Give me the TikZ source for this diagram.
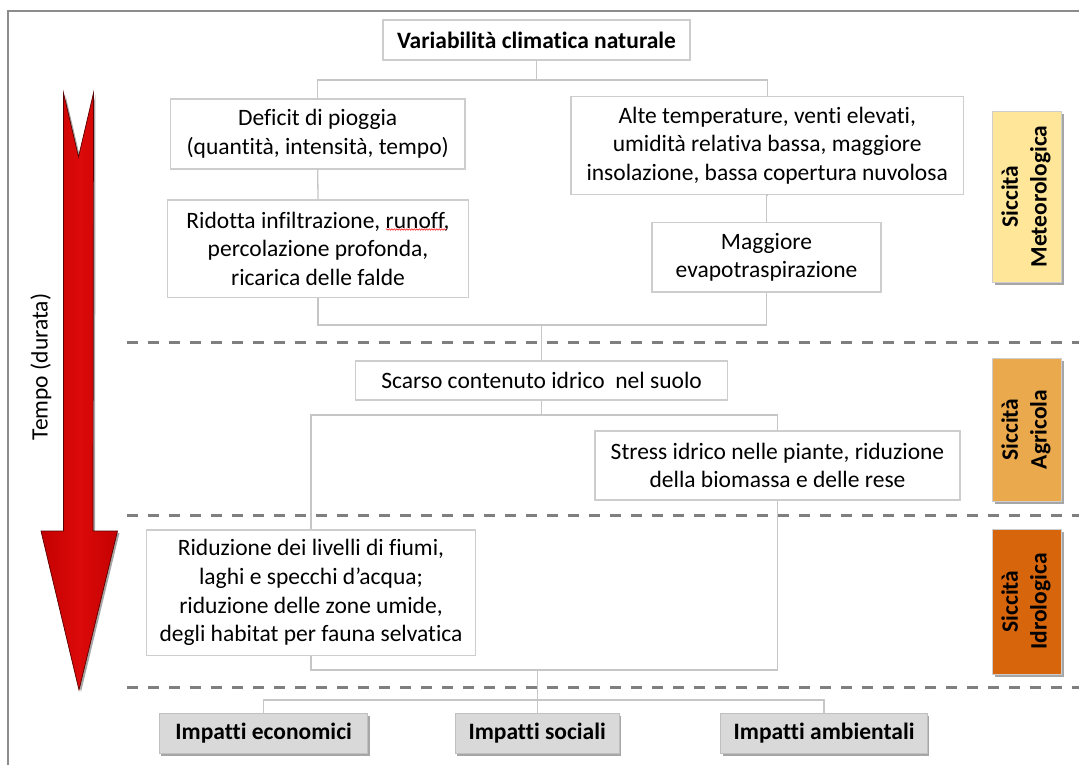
\documentclass[tikz,border=0pt]{standalone}
\usepackage{fontspec}
\setmainfont{Carlito}[Ligatures={NoCommon,NoContextual}]
\usetikzlibrary{shadows,decorations.pathmorphing}
\definecolor{boxline}{HTML}{CDCDCD}
\definecolor{connline}{HTML}{C6C6C6}
\definecolor{dashc}{HTML}{7F7F7F}
\definecolor{framec}{HTML}{8C8C8C}
\definecolor{meteo}{HTML}{FFE699}
\definecolor{agri}{HTML}{EAA94C}
\definecolor{idro}{HTML}{D7650C}
\definecolor{impact}{HTML}{D9D9D9}
\definecolor{impline}{HTML}{C0C0C0}
\definecolor{arrowred}{HTML}{C40000}
\definecolor{arrowlight}{HTML}{DC0A0A}
\definecolor{arrowdark}{HTML}{5A0000}
\tikzset{
  fnt/.style={font=\fontsize{23.5}{28.7}\selectfont},
  box/.style={draw=boxline, line width=1.3pt, fill=white, inner sep=0pt, align=center, fnt},
  impbox/.style={draw=impline, line width=1pt, fill=impact, inner sep=0pt, align=center,
    font=\fontsize{23.5}{28.7}\selectfont\bfseries, minimum height=40,
    drop shadow={shadow xshift=2pt, shadow yshift=-3pt, opacity=0.35, fill=black}},
  lab/.style={draw=boxline, line width=0.8pt, fill=#1, inner sep=0pt, minimum width=69,
    font=\fontsize{23.5}{28.7}\selectfont\bfseries,
    drop shadow={shadow xshift=3pt, shadow yshift=-3pt, opacity=0.35, fill=black}},
  conn/.style={draw=connline, line width=1.3pt},
  sepline/.style={draw=dashc, line width=3pt, dash pattern=on 11pt off 10pt},
  framel/.style={draw=framec, line width=1.5pt},
}
\newcommand{\twolines}[2]{\rotatebox{90}{\begin{tabular}{@{}c@{}}#1\\#2\end{tabular}}}
\begin{document}
\begin{tikzpicture}[x=1pt,y=-1pt]
\useasboundingbox (0,0) rectangle (1079,765);
\fill[white] (0,0) rectangle (1079,765);
% frame
\draw[framel] (1079,11) -- (8,11) -- (8,765);
% separators
\coordinate (s1a) at (127,342); \coordinate (s1b) at (1079,342);
\coordinate (s2a) at (127,515); \coordinate (s2b) at (1079,515);
\coordinate (s3a) at (127,687); \coordinate (s3b) at (1079,687);
\draw[sepline] (s1a) -- (s1b);
\draw[sepline] (s2a) -- (s2b);
\draw[sepline] (s3a) -- (s3b);
% time arrow
\path[left color=arrowred, right color=arrowred, middle color=arrowlight, draw=arrowdark, line width=0.7pt,
  drop shadow={shadow xshift=2pt, shadow yshift=-2pt, opacity=0.35, fill=black}]
  (63.5,93) -- (78.5,157) -- (93.5,93) -- (93,531) -- (117.5,531) -- (79,690) -- (41,531) -- (63.5,531) -- cycle;
\node[fnt, rotate=90] (tempo) at (41,367) {Tempo (durata)};
% boxes
\node[box, font=\fontsize{23.5}{28.7}\selectfont\bfseries, minimum width=307, minimum height=40] (top) at (536.5,40) {Variabilità climatica naturale};
\node[box, minimum width=294.5, minimum height=70] (def) at (317.7,134) {Deficit di pioggia\\(quantità, intensità, tempo)};
\node[box, minimum width=300.6, minimum height=97.7] (rid) at (318,248.9) {Ridotta infiltrazione, runoff,\\percolazione profonda,\\ricarica delle falde};
\node[box, minimum width=392.5, minimum height=97.6] (alte) at (767.2,145.5) {Alte temperature, venti elevati,\\umidità relativa bassa, maggiore\\insolazione, bassa copertura nuvolosa};
\node[box, minimum width=229, minimum height=69.3] (mag) at (766.5,257.3) {Maggiore\\evapotraspirazione};
\node[box, minimum width=372, minimum height=39] (scarso) at (541.6,380.5) {Scarso contenuto idrico\ \ nel suolo};
\node[box, minimum width=365, minimum height=69] (stress) at (777.5,465.5) {Stress idrico nelle piante, riduzione\\della biomassa e delle rese};
\node[box, minimum width=328.5, minimum height=125.7] (ridu) at (311,592.8) {Riduzione dei livelli di fiumi,\\laghi e specchi d’acqua;\\riduzione delle zone umide,\\degli habitat per fauna selvatica};
% spell-check squiggle under "runoff"
\coordinate (sq1) at (386,229.5); \coordinate (sq2) at (446,229.5);
\draw[red, line width=0.5pt, decorate, decoration={snake, amplitude=0.7pt, segment length=2.5pt}] (sq1) -- (sq2);
% impacts
\node[impbox, minimum width=208.4] (econ) at (263.6,733) {Impatti economici};
\node[impbox, minimum width=164] (soc) at (537.2,733) {Impatti sociali};
\node[impbox, minimum width=206.6] (amb) at (824.1,733) {Impatti ambientali};
% drought labels
\node[lab=meteo, minimum height=171] (lmeteo) at (1026.5,196.5) {\twolines{Siccità}{Meteorologica}};
\node[lab=agri, minimum height=143] (lagri) at (1026.5,429.5) {\twolines{Siccità}{Agricola}};
\node[lab=idro, minimum height=145] (lidro) at (1026.5,601.5) {\twolines{Siccità}{Idrologica}};
% connectors
\coordinate (j1) at (top.south |- 0,80);
\draw[conn] (top.south) -- (j1);
\draw[conn] (j1) -| (def.north);
\draw[conn] (j1) -| (alte.north);
\draw[conn] (def.south) -- (rid.north);
\draw[conn] (alte.south) -- (mag.south |- alte.south) -- (mag.north);
\coordinate (j2) at (scarso.north |- 0,325);
\draw[conn] (rid.south) |- (j2);
\draw[conn] (mag.south) |- (j2);
\draw[conn] (j2) -- (scarso.north);
\coordinate (j3) at (scarso.south |- 0,415);
\draw[conn] (scarso.south) -- (j3);
\draw[conn] (j3) -| (ridu.north);
\draw[conn] (j3) -| (stress.north);
\coordinate (j4) at (soc.north |- 0,670);
\draw[conn] (ridu.south) |- (j4);
\draw[conn] (stress.south) |- (j4);
\coordinate (j5) at (soc.north |- 0,700);
\draw[conn] (j4) -- (j5) -- (soc.north);
\draw[conn] (j5) -| (econ.north);
\draw[conn] (j5) -| (amb.north);
\end{tikzpicture}
\end{document}
